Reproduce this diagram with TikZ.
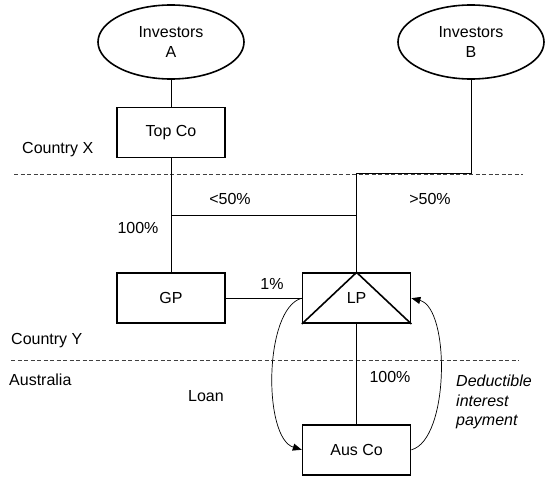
\documentclass[tikz,border=0pt]{standalone}
\usepackage{fontspec}
\setmainfont{Liberation Sans}
\usetikzlibrary{shapes.geometric, arrows.meta, positioning, calc}

\begin{document}
\begin{tikzpicture}[
    x=1pt, y=-1pt,
    font=\fontsize{16}{19.5}\selectfont,
    investor/.style={draw, ellipse, line width=1.6pt, minimum width=146pt, minimum height=74pt, inner sep=0pt, align=center},
    entity/.style={draw, rectangle, line width=1.6pt, minimum width=108pt, minimum height=50pt, inner sep=0pt},
    link/.style={draw, line width=0.8pt},
    border/.style={draw, line width=0.8pt, black!75, dash pattern=on 4pt off 2.5pt},
    flow/.style={draw, line width=0.7pt, -{Triangle[length=9pt, width=7pt]}},
    label/.style={inner sep=0pt}
]
\useasboundingbox (0,0) rectangle (558,484);

\node[investor] (invA) at (171,42) {Investors\\A};
\node[investor] (invB) at (471,42) {Investors\\B};
\node[entity, below=27pt of invA] (topco) {Top Co};
\node[entity, below=114pt of topco] (gp) {GP};
\node[entity, right=76pt of gp] (lp) {LP};
\node[entity, below=100pt of lp] (aus) {Aus Co};

\coordinate (xw) at (14,174);
\coordinate (xe) at (523,174);
\coordinate (yw) at (11,360);
\coordinate (ye) at (519,360);
\coordinate (tap) at ($(topco.south)!.5!(gp.north)$);

\draw[border] (xw) -- (xe);
\draw[border] (yw) -- (ye);

\node[label, anchor=west] (cx) at (22,150) {Country X};
\node[label, anchor=west] (cy) at (11,341) {Country Y};
\node[label, anchor=west] (au) at (9,380) {Australia};

\draw[link] (invA) -- (topco);
\draw[link] (topco) -- (gp);
\draw[link] (tap) -- (tap -| lp.north);
\draw[link] (invB.south) -- ++(0,94) -| (lp.north);
\draw[link] (gp) -- (lp);
\draw[link] (lp) -- (aus);
\draw[line width=1.6pt, line join=miter] (lp.south west) -- (lp.north) -- (lp.south east);

\node[label] (lessA) at (230,199) {<50\%};
\node[label] (moreB) at (430,199) {>50\%};
\node[label] (fullGP) at (138,228) {100\%};
\node[label] (partLP) at (272,284) {1\%};
\node[label] (fullAus) at (390,377) {100\%};
\node[label] (loan) at (206,396) {Loan};
\node[label, anchor=west, align=left, font=\fontsize{16}{19.5}\selectfont\itshape] (interest) at (456,402) {Deductible\\interest\\payment};

\draw[flow] (lp.west) .. controls +(-38,10) and +(-39,-12) .. (aus.west);
\draw[flow] (aus.east) .. controls +(38,-10) and +(39,10) .. (lp.east);

\end{tikzpicture}
\end{document}
